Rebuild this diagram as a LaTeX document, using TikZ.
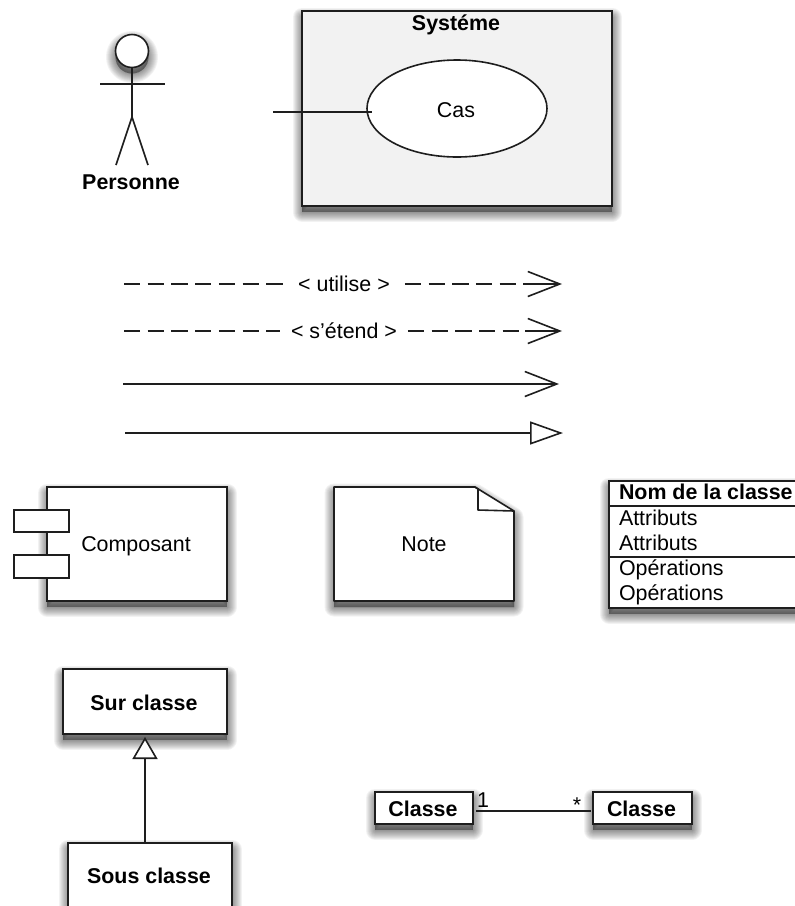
\documentclass[tikz,border=0pt]{standalone}
\usepackage{fontspec}
\setmainfont{Liberation Sans}
\usetikzlibrary{arrows.meta,calc,shapes.geometric}
\definecolor{ink}{HTML}{1E1E1E}
\definecolor{sysfill}{HTML}{F2F2F2}
\tikzset{
  x=1pt,y=-1pt,
  softlayer/.style={preaction={draw=black,fill=black,draw opacity=.05,fill opacity=.05,line width=#1,line join=round,transform canvas={yshift=-6pt}}},
  softshadow/.style={softlayer=19pt,softlayer=17pt,softlayer=15pt,softlayer=13pt,softlayer=11pt,softlayer=9pt,softlayer=7pt,softlayer=5pt,softlayer=3pt,softlayer=1pt},
  boxshape/.style={draw=ink,line width=1.6pt,fill=white,inner sep=0pt,outer sep=0pt,rectangle,softshadow},
  pinshape/.style={draw=ink,line width=1.6pt,fill=white,inner sep=0pt,outer sep=0pt,rectangle},
  lineink/.style={draw=ink,line width=1.6pt},
  plainlabel/.style={anchor=base,inner sep=0pt,outer sep=0pt,text=black,font=\fontsize{21.4pt}{24pt}\selectfont},
  boldlabel/.style={plainlabel,font=\fontsize{21.4pt}{24pt}\selectfont\bfseries},
  leftlabel/.style={plainlabel,anchor=base west},
  dashink/.style={lineink,dash pattern=on 16.3pt off 7.4pt},
  barbtip/.style={-{Straight Barb[length=32pt,width=25pt,line width=1.6pt]}},
  hollowtip/.style={-{Triangle[fill=white,length=33pt,width=23pt,line width=1.6pt]}},
}
\begin{document}
\begin{tikzpicture}
\path[use as bounding box,clip] (0,0) rectangle (795,906);

% Actor
\node[boxshape,circle,minimum size=33pt] (head) at (132,51) {};
\coordinate (hip) at (132,117);
\coordinate (armL) at (100,84);
\coordinate (armR) at (165,84);
\coordinate (footL) at (116,165);
\coordinate (footR) at (148,165);
\draw[lineink] (head.south) -- (hip);
\draw[lineink] (armL) -- (armR);
\draw[lineink] (footL) -- (hip) -- (footR);
\node[boldlabel] (personne) at (131,189) {Personne};

% System
\node[boxshape,fill=sysfill,minimum width=310pt,minimum height=195pt] (sys) at (457,108.5) {};
\node[boldlabel] (systeme) at (456,30) {Systéme};
\node[draw=ink,line width=1.6pt,fill=white,ellipse,inner sep=0pt,minimum width=180pt,minimum height=97pt] (cas) at (457,108.5) {};
\node[plainlabel] (caslabel) at (456,117) {Cas};
\coordinate (assocA) at (273,112);
\coordinate (assocB) at (372,112);
\draw[lineink] (assocA) -- (assocB);

% Arrow legend
\coordinate (a1) at (124,284);
\coordinate (c1) at (525,284);
\coordinate (b1) at (562,284);
\node[plainlabel,inner xsep=15pt] (utilise) at (344,291) {< utilise >};
\draw[dashink] (a1) -- (a1 -| utilise.west);
\draw[dashink] (utilise.east |- a1) -- (c1);
\draw[lineink,barbtip] (c1) -- (b1);

\coordinate (a2) at (124,331);
\coordinate (c2) at (525,331);
\coordinate (b2) at (562,331);
\node[plainlabel,inner xsep=11pt] (etend) at (344,338) {< s'étend >};
\draw[dashink] (a2) -- (a2 -| etend.west);
\draw[dashink] (etend.east |- a2) -- (c2);
\draw[lineink,barbtip] (c2) -- (b2);

\coordinate (a3) at (123,384);
\coordinate (b3) at (559,384);
\draw[lineink,barbtip] (a3) -- (b3);

\coordinate (a4) at (125,433);
\coordinate (b4) at (563,433);
\draw[lineink,hollowtip] (a4) -- (b4);

% Component
\node[boxshape,minimum width=180pt,minimum height=114pt] (comp) at (137,544) {};
\node[pinshape,minimum width=55pt,minimum height=22pt] (pinA) at (41.5,521) {};
\node[pinshape,minimum width=55pt,minimum height=23pt] (pinB) at (41.5,566.5) {};
\node[plainlabel] (complabel) at (136,551) {Composant};

% Note
\path[fill=white,softshadow,line join=round] (334,487) -- (475,487) -- (514,511) -- (514,601) -- (334,601) -- cycle;
\draw[lineink,fill=white,line join=round] (334,487) -- (475,487) -- (514,511) -- (514,601) -- (334,601) -- cycle;
\draw[lineink,line join=round] (475,487) -- (478,489) -- (478,510) -- (514,511);
\node[plainlabel] (notelabel) at (424,551) {Note};

% Class table
\node[boxshape,minimum width=200pt,minimum height=127pt] (cls) at (709,544.5) {};
\draw[lineink] (609,506) -- (810,506);
\draw[lineink] (609,557) -- (810,557);
\node[boldlabel,anchor=base west] (clsname) at (619,499) {Nom de la classe};
\node[leftlabel] (attrA) at (619,525) {Attributs};
\node[leftlabel] (attrB) at (619,550) {Attributs};
\node[leftlabel] (opA) at (619,575) {Opérations};
\node[leftlabel] (opB) at (619,600) {Opérations};

% Generalisation
\node[boxshape,minimum width=164pt,minimum height=65pt] (sur) at (145,701.5) {};
\node[boldlabel] (surlabel) at (144,710) {Sur classe};
\node[boxshape,minimum width=164pt,minimum height=70pt] (sous) at (150,878) {};
\node[boldlabel] (souslabel) at (149,883) {Sous classe};
\coordinate (gentip) at (145,737);
\draw[lineink,-{Triangle[fill=white,length=22pt,width=25pt,line width=1.6pt]}] (gentip |- sous.north) -- (gentip);

% Association
\node[boxshape,minimum width=98pt,minimum height=32pt] (clsA) at (424,808) {};
\node[boldlabel] (clsAlabel) at (423,816) {Classe};
\node[boxshape,minimum width=99pt,minimum height=32pt] (clsB) at (642.5,808) {};
\node[boldlabel] (clsBlabel) at (641.5,816) {Classe};
\coordinate (assocL) at (476,811);
\coordinate (assocR) at (591,811);
\draw[lineink] (assocL) -- (assocR);
\node[plainlabel] (multA) at (483,807) {1};
\node[plainlabel] (multB) at (577,812) {*};
\end{tikzpicture}
\end{document}
